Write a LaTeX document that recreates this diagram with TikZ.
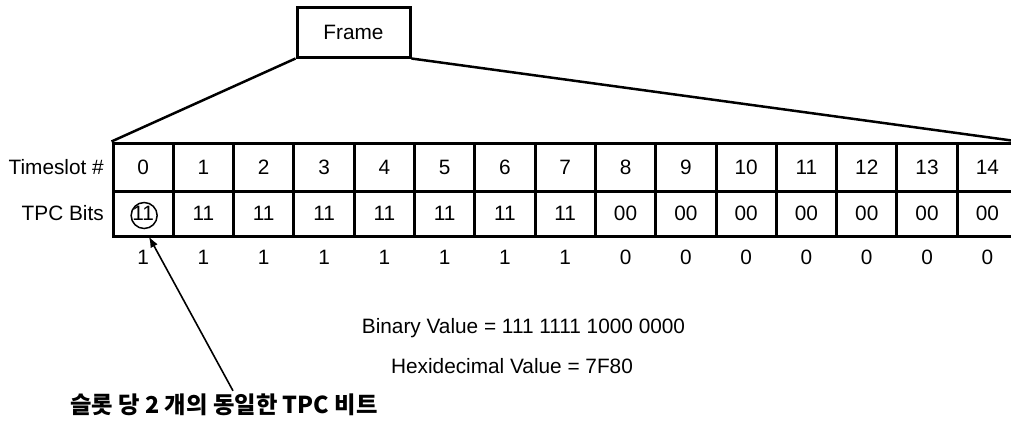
\documentclass[tikz,border=0pt]{standalone}
\usepackage{fontspec}
\setmainfont{Liberation Sans}
\newfontfamily\kofont{Noto Sans CJK KR}
\usetikzlibrary{arrows.meta}
\begin{document}
\begin{tikzpicture}[x=1pt,y=-1pt,
  txt/.style={font=\fontsize{20.8}{25}\selectfont, inner sep=0pt},
  cell/.style={txt, draw, line width=3pt, minimum width=60.3pt, minimum height=#1},
  framebox/.style={txt, draw, line width=3pt, minimum width=113pt, minimum height=50pt},
  fan/.style={line width=2.5pt},
  ring/.style={draw, circle, line width=1.5pt, minimum size=26pt, inner sep=0pt}]
\useasboundingbox (0,0) rectangle (1011,421);
\clip (0,0) rectangle (1011,421);

\node[framebox] (frame) at (353.5,32) {Frame};

\node[txt, anchor=east] (ts) at (104,167) {Timeslot \#};
\node[txt, anchor=east] (tpc) at (104,213.5) {TPC Bits};

\foreach \i in {0,...,14} {
  \pgfmathsetmacro\cx{143.15+60.3*\i}
  \node[cell=48pt] (t\i) at (\cx,167) {\i};
  \node[cell=45pt] (b\i) at (\cx,213.5) {\ifnum\i<8 11\else 00\fi};
  \node[txt] (v\i) at (\cx,257) {\ifnum\i<8 1\else 0\fi};
}

\draw[fan] (frame.south west) -- (t0.north west);
\draw[fan] (frame.south east) -- (t14.north east);

\node[ring] (c0) at ([xshift=1pt,yshift=-2pt]b0.center) {};

\node[txt] (bin) at (523.5,328) {Binary Value = 111 1111 1000 0000};
\node[txt] (hex) at (512,366) {Hexidecimal Value = 7F80};

\node[font=\kofont\bfseries\fontsize{23.3}{28}\selectfont, inner sep=0pt] (note) at (224,405) {슬롯 당 2 개의 동일한 TPC 비트};

\draw[-{Latex[length=11pt,width=8pt]}, line width=1.6pt] ([xshift=9pt,yshift=3pt]note.north) -- ([yshift=-8pt]c0.-70);
\end{tikzpicture}
\end{document}
